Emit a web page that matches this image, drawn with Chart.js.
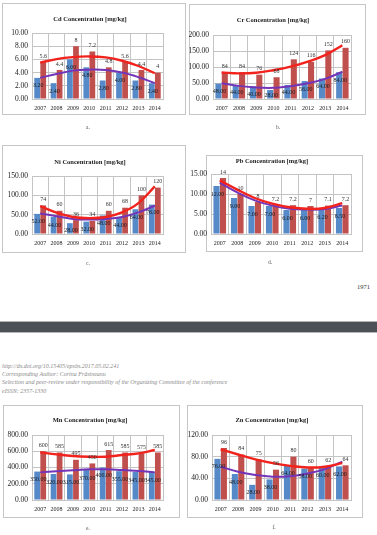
<!DOCTYPE html>
<html>
<head>
<meta charset="utf-8">
<script src="https://cdn.jsdelivr.net/npm/chart.js@4.4.0/dist/chart.umd.min.js"></script>
<style>
body { margin: 0; width: 377px; height: 535px; position: relative; background: #fff; overflow: hidden; font-family: "Liberation Serif", serif; }
.box { position: absolute; border: 1px solid #c6c6c6; box-sizing: border-box; background: #fff; }
.title { position: absolute; font-weight: bold; font-size: 6.5px; color: #222; white-space: nowrap; transform: translate(-50%, -50%); }
canvas { position: absolute; }
.cap { position: absolute; font-size: 5.5px; color: #555; transform: translate(-50%, -50%); }
.meta { position: absolute; left: 2px; font-style: italic; font-size: 6px; color: #8a8a8a; white-space: nowrap; }
.pageno { position: absolute; left: 357px; top: 283px; font-size: 6.5px; color: #333333; }
.bar { position: absolute; left: 0; top: 321px; width: 377px; height: 12px; background: #4b5157; border-top: 1px solid #b5b5b5; border-bottom: 1px solid #b5b5b5; box-sizing: border-box; }
</style>
</head>
<body>
<div class="pageno">1971</div>
<div class="bar"></div>
<div class="meta" style="top:363px">http://dx.doi.org/10.15405/epsbs.2017.05.02.241</div>
<div class="meta" style="top:371px">Corresponding Author: Corina Frăsineanu</div>
<div class="meta" style="top:379px">Selection and peer-review under responsibility of the Organizing Committee of the conference</div>
<div class="meta" style="top:388px">eISSN: 2357-1330</div>
<script>
// values
const years = ['2007', '2008', '2009', '2010', '2011', '2012', '2013', '2014'];

const cdBlue = [3.2, 2.4, 6.0, 4.8, 2.8, 4.0, 2.8, 2.4];
const cdRed = [5.6, 4.4, 8, 7.2, 4.8, 5.6, 4.4, 4];
const cdBlueTrend = [3.2, 3.8, 4.3, 4.45, 4.4, 4.0, 3.3, 2.4];
const cdRedTrend = [5.5, 6.05, 6.35, 6.45, 6.3, 5.8, 5.0, 3.9];
const cdTicks = [0, 2, 4, 6, 8, 10];

const crBlue = [48, 44, 40, 28, 44, 56, 64, 84];
const crRed = [84, 84, 76, 68, 124, 116, 152, 160];
const crBlueTrend = [49, 41, 36, 35, 40, 49, 63, 85];
const crRedTrend = [83, 80, 82, 90, 101, 117, 137, 168];
const crTicks = [0, 50, 100, 150, 200];

const niBlue = [52, 44, 28, 32, 48, 44, 64, 76];
const niRed = [74, 60, 36, 34, 60, 68, 100, 120];
const niBlueTrend = [53, 46, 39, 37.5, 39, 44, 56, 73];
const niRedTrend = [72, 55, 44, 41, 44, 56, 80, 123];
const niTicks = [0, 50, 100, 150];

const pbBlue = [12, 9, 7, 7, 6, 6, 6.2, 6.5];
const pbRed = [14, 10, 8, 7.2, 7.2, 7, 7.1, 7.2];
const pbBlueTrend = [12.8, 10.4, 8.4, 7.1, 6.3, 6.1, 6.25, 7.1];
const pbRedTrend = [13.4, 11.1, 9.0, 7.6, 6.7, 6.3, 6.5, 7.7];
const pbTicks = [0, 5, 10, 15];

const mnBlue = [350, 320, 315, 370, 400, 355, 345, 345];
const mnRed = [600, 585, 495, 450, 615, 585, 575, 585];
const mnBlueTrend = [340, 355, 367, 377, 377, 369, 357, 340];
const mnRedTrend = [586, 561, 541, 533, 533, 553, 574, 615];
const mnTicks = [0, 200, 400, 600, 800];

const znBlue = [76, 48, 28, 38, 64, 58, 60, 62];
const znRed = [96, 84, 75, 56, 80, 60, 62, 64];
const znBlueTrend = [61.5, 52, 46, 43, 44, 49, 57, 71];
const znRedTrend = [93.5, 84, 75, 68, 63, 60, 61.5, 68];
const znTicks = [0, 20, 40, 60, 80, 100, 120];

// page layout: box, canvas and plot rectangles as [left, top, right, bottom]
const panels = [
    { title: 'Cd Concentration [mg/kg]', cap: 'a.', blue: cdBlue, red: cdRed, blueTrend: cdBlueTrend, redTrend: cdRedTrend, ticks: cdTicks,
      box: [2, 3, 186, 115], canvas: [2, 3, 186, 115], plot: [32, 33, 163, 99], titleAt: [90, 18], capAt: [88, 127] },
    { title: 'Cr Concentration [mg/kg]', cap: 'b.', blue: crBlue, red: crRed, blueTrend: crBlueTrend, redTrend: crRedTrend, ticks: crTicks,
      box: [189, 4, 366, 115], canvas: [188, 4, 366, 115], plot: [213, 35, 351, 99], titleAt: [273, 19], capAt: [278, 127] },
    { title: 'Ni Concentration [mg/kg]', cap: 'c.', blue: niBlue, red: niRed, blueTrend: niBlueTrend, redTrend: niRedTrend, ticks: niTicks,
      box: [2, 145, 186, 253], canvas: [2, 145, 186, 253], plot: [32, 176, 163, 234], titleAt: [90, 161], capAt: [88, 263] },
    { title: 'Pb Concentration [mg/kg]', cap: 'd.', blue: pbBlue, red: pbRed, blueTrend: pbBlueTrend, redTrend: pbRedTrend, ticks: pbTicks,
      box: [206, 155, 363, 252], canvas: [188, 155, 363, 252], plot: [211, 174, 351, 234], titleAt: [272, 160], capAt: [270, 262] },
    { title: 'Mn Concentration [mg/kg]', cap: 'e.', blue: mnBlue, red: mnRed, blueTrend: mnBlueTrend, redTrend: mnRedTrend, ticks: mnTicks,
      box: [3, 405, 180, 518], canvas: [3, 405, 180, 518], plot: [32, 435, 163, 500], titleAt: [90, 419], capAt: [88, 528] },
    { title: 'Zn Concentration [mg/kg]', cap: 'f.', blue: znBlue, red: znRed, blueTrend: znBlueTrend, redTrend: znRedTrend, ticks: znTicks,
      box: [187, 405, 363, 518], canvas: [187, 405, 363, 518], plot: [212, 435, 351, 500], titleAt: [272, 419], capAt: [274, 527] }
];

// bar value labels: red above the bar, blue inside near the top
const barLabels = {
    id: 'barLabels',
    afterDatasetsDraw(chart) {
        const ctx = chart.ctx;
        ctx.save();
        ctx.font = '6px "Liberation Serif", serif';
        ctx.textAlign = 'center';
        chart.data.datasets.forEach((ds, i) => {
            if (ds.type !== 'bar') return;
            const meta = chart.getDatasetMeta(i);
            meta.data.forEach((el, j) => {
                const v = ds.data[j];
                if (i === 1) {
                    ctx.fillStyle = '#333';
                    ctx.textBaseline = 'bottom';
                    ctx.fillText(String(v), el.x, el.y - 3);
                } else {
                    ctx.fillStyle = '#1a1a1a';
                    ctx.textBaseline = 'middle';
                    ctx.fillText(v.toFixed(2), el.x + 1, Math.min(el.y + 8, el.base - 3));
                }
            });
        });
        ctx.restore();
    }
};

function place(el, r) {
    el.style.left = r[0] + 'px';
    el.style.top = r[1] + 'px';
    el.style.width = (r[2] - r[0]) + 'px';
    el.style.height = (r[3] - r[1]) + 'px';
}

panels.forEach(p => {
    const box = document.createElement('div');
    box.className = 'box';
    place(box, p.box);
    document.body.appendChild(box);

    const cv = document.createElement('canvas');
    cv.width = p.canvas[2] - p.canvas[0];
    cv.height = p.canvas[3] - p.canvas[1];
    place(cv, p.canvas);
    document.body.appendChild(cv);

    const t = document.createElement('div');
    t.className = 'title';
    t.textContent = p.title;
    t.style.left = p.titleAt[0] + 'px';
    t.style.top = p.titleAt[1] + 'px';
    document.body.appendChild(t);

    const c = document.createElement('div');
    c.className = 'cap';
    c.textContent = p.cap;
    c.style.left = p.capAt[0] + 'px';
    c.style.top = p.capAt[1] + 'px';
    document.body.appendChild(c);

    const yWidth = p.plot[0] - p.canvas[0];
    const xHeight = p.canvas[3] - p.plot[3];
    const grid = '#c4c4c4';

    new Chart(cv.getContext('2d'), {
        data: {
            labels: years,
            datasets: [
                { type: 'bar', data: p.blue, backgroundColor: '#5689c8', order: 1, barPercentage: 0.95, categoryPercentage: 0.74 },
                { type: 'bar', data: p.red, backgroundColor: '#c0504d', order: 1, barPercentage: 0.95, categoryPercentage: 0.74 },
                { type: 'line', data: p.redTrend, borderColor: '#f2221c', borderWidth: 2.4, pointRadius: 0, tension: 0.4, order: 0 },
                { type: 'line', data: p.blueTrend, borderColor: '#7434b8', borderWidth: 2, pointRadius: 0, tension: 0.4, order: 0 }
            ]
        },
        options: {
            responsive: false,
            animation: false,
            devicePixelRatio: 1,
            layout: { padding: { top: p.plot[1] - p.canvas[1], right: p.canvas[2] - p.plot[2], left: 0, bottom: 0 } },
            plugins: { legend: { display: false }, tooltip: { enabled: false } },
            scales: {
                x: {
                    offset: true,
                    grid: { color: grid, drawTicks: false, offset: true },
                    border: { color: grid },
                    ticks: { color: '#222', font: { family: '"Liberation Serif", serif', size: 6 }, padding: 6, maxRotation: 0, autoSkip: false },
                    afterFit: s => { s.height = xHeight; }
                },
                y: {
                    min: p.ticks[0],
                    max: p.ticks[p.ticks.length - 1],
                    grid: { color: grid, drawTicks: false },
                    border: { color: grid },
                    ticks: {
                        stepSize: p.ticks[1] - p.ticks[0],
                        color: '#222',
                        font: { family: '"Liberation Serif", serif', size: 7.5 },
                        padding: 4,
                        callback: v => Number(v).toFixed(2)
                    },
                    afterFit: s => { s.width = yWidth; }
                }
            }
        },
        plugins: [barLabels]
    });
});
</script>
</body>
</html>
